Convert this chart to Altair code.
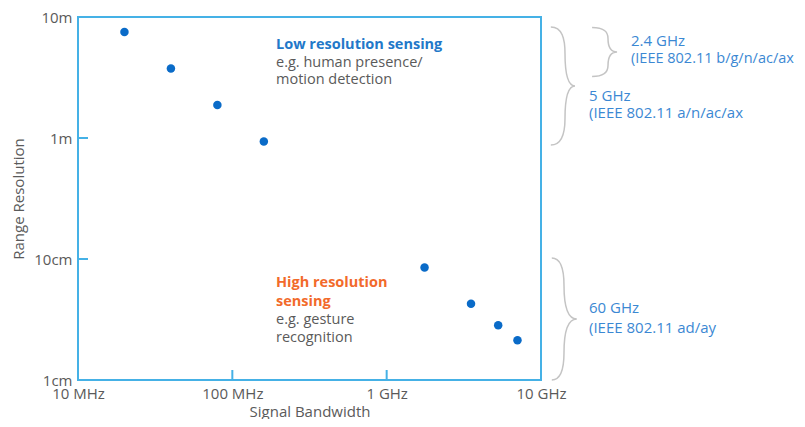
import altair as alt
import pandas as pd

# ---- data ----
bandwidth_mhz = [20, 40, 80, 160, 1760, 3520, 5280, 7040]
resolution_m = [7.5, 3.75, 1.875, 0.9375, 0.0852, 0.0426, 0.0284, 0.0213]

x_tick_values = [10, 100, 1000, 10000]      # MHz -> "10 MHz" ... "10 GHz"
y_tick_values = [0.01, 0.1, 1, 10]          # m   -> "1cm" ... "10m"
x_inner_ticks = [100, 1000]
y_inner_ticks = [0.1, 1]

low_title = "Low resolution sensing"
low_lines = ["e.g. human presence/", "motion detection"]
high_title = ["High resolution", "sensing"]
high_lines = ["e.g. gesture", "recognition"]
band24 = ["2.4 GHz", "(IEEE 802.11 b/g/n/ac/ax"]
band5 = ["5 GHz", "(IEEE 802.11 a/n/ac/ax"]
band60 = ["60 GHz", "(IEEE 802.11 ad/ay"]

FONT = "Open Sans"
FRAME = "#45b1e6"
GRAY = "#5a5a5a"
DOT = "#0a6bc8"
BLUE_B = "#2278c9"
BLUE_T = "#3b88d3"
ORANGE = "#f26a2b"
BRACE = "#c4c4c4"

W, H = 463, 363

df = pd.DataFrame({"bw": bandwidth_mhz, "res": resolution_m})

xscale = alt.Scale(type="log", domain=[10, 10000], nice=False)
yscale = alt.Scale(type="log", domain=[0.01, 10], nice=False)

xaxis = alt.Axis(
    title="Signal Bandwidth", values=x_tick_values, grid=False, ticks=False,
    domain=False, labelFlush=False, labelPadding=6, titlePadding=3,
    labelExpr="datum.value >= 1000 ? format(datum.value/1000, 'd') + ' GHz' : format(datum.value, 'd') + ' MHz'")
yaxis = alt.Axis(
    title="Range Resolution", values=y_tick_values, grid=False, ticks=False,
    domain=False, labelPadding=6, titlePadding=7,
    labelExpr="datum.value >= 1 ? format(datum.value, 'd') + 'm' : format(datum.value*100, 'd') + 'cm'")

points = alt.Chart(df).mark_circle(size=72, color=DOT, opacity=1).encode(
    x=alt.X("bw:Q", scale=xscale, axis=xaxis),
    y=alt.Y("res:Q", scale=yscale, axis=yaxis),
)

ytick = alt.Chart(pd.DataFrame({"v": y_inner_ticks})).mark_rule(color=FRAME, strokeWidth=2).encode(
    y=alt.Y("v:Q", scale=yscale, axis=yaxis), x=alt.value(0), x2=alt.value(10))
xtick = alt.Chart(pd.DataFrame({"v": x_inner_ticks})).mark_rule(color=FRAME, strokeWidth=2).encode(
    x=alt.X("v:Q", scale=xscale, axis=xaxis), y=alt.value(H), y2=alt.value(H - 10))

one = pd.DataFrame({"k": [0]})


def label(text, x, y, color, weight="normal", size=14.5):
    return alt.Chart(one).mark_text(
        text=text, align="left", baseline="middle", font=FONT, fontSize=size,
        fontWeight=weight, color=color).encode(x=alt.value(x), y=alt.value(y))


def brace_path(e, t):
    return (f"M{e},-1 C{e*0.2:.3f},-1 0,-0.8 0,-0.55 "
            f"C0,-0.2 {t*0.3:.3f},0 {t},0 "
            f"C{t*0.3:.3f},0 0,0.2 0,0.55 "
            f"C0,0.8 {e*0.2:.3f},1 {e},1")


def brace(x, y, h, e, t):
    return alt.Chart(one).mark_point(
        shape=brace_path(e, t), size=h * h, filled=False, stroke=BRACE,
        strokeWidth=1.5, opacity=1).encode(x=alt.value(x), y=alt.value(y))


RS = 15
layers = [points, ytick, xtick,
          label(low_title, 198, 28, BLUE_B, "bold"),
          label(low_lines[0], 198, 46, GRAY),
          label(low_lines[1], 198, 63, GRAY),
          label(high_title[0], 198, 266, ORANGE, "bold"),
          label(high_title[1], 198, 285, ORANGE, "bold"),
          label(high_lines[0], 198, 303, GRAY),
          label(high_lines[1], 198, 321, GRAY),
          label(band24[0], 553, 24, BLUE_T, size=RS),
          label(band24[1], 553, 42, BLUE_T, size=14.5),
          label(band5[0], 511, 79, BLUE_T, size=RS),
          label(band5[1], 511, 96, BLUE_T, size=RS),
          label(band60[0], 511, 291, BLUE_T, size=RS),
          label(band60[1], 511, 311, BLUE_T, size=RS),
          brace(487, 69, 118, -0.24, 0.17),
          brace(530, 35, 49, -0.65, 0.37),
          brace(486, 302, 122, -0.2, 0.21),
          ]

chart = alt.layer(*layers).properties(
    width=W, height=H,
    autosize=alt.AutoSizeParams(type="none"),
    padding={"left": 70, "top": 9, "right": 256, "bottom": 39},
).configure_view(stroke=FRAME, strokeWidth=2).configure_axis(
    labelFont=FONT, titleFont=FONT, labelFontSize=15, titleFontSize=15,
    labelColor=GRAY, titleColor=GRAY, titleFontWeight="normal")

chart.save("out.html", embed_options={"renderer": "svg", "actions": False})
